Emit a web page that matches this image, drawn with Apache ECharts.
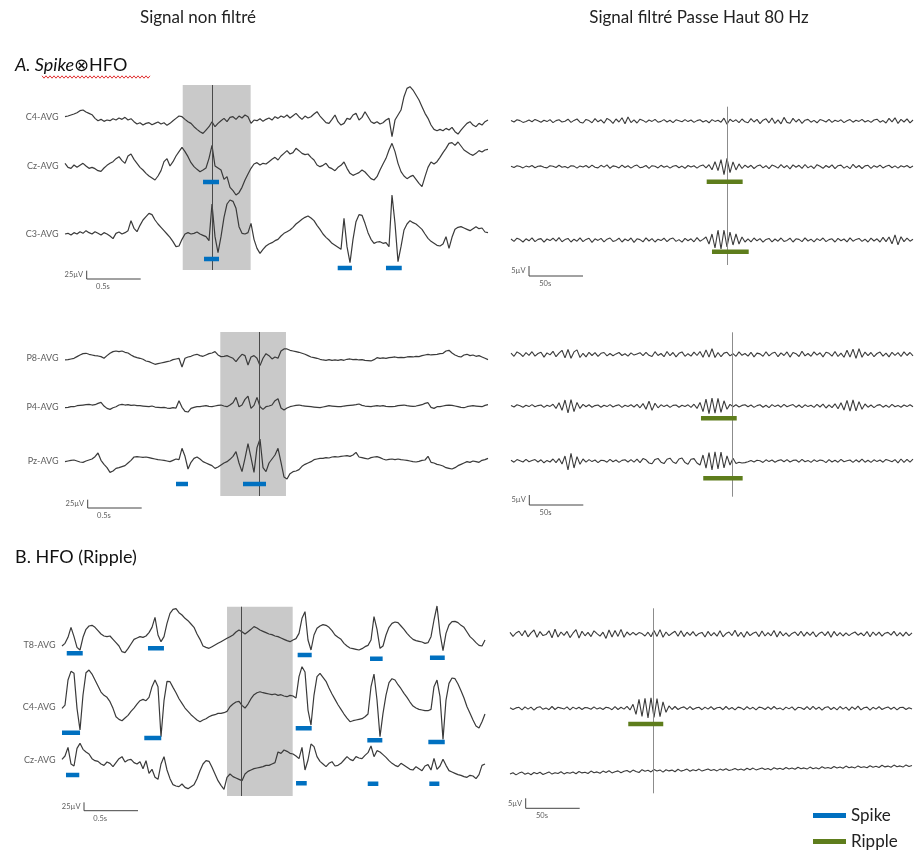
<!DOCTYPE html>
<html><head><meta charset="utf-8">
<script src="https://cdn.jsdelivr.net/npm/echarts@6/dist/echarts.min.js"></script>
<style>html,body{margin:0;padding:0;background:#fff}#c{width:914px;height:855px}</style>
</head><body><div id="c"></div>
<script>
// ================= DATA =================
// Unfiltered traces (µV), sampled every 1/36 s
const rawA1_C4 = [0,2,5,8,12,18,20,14,10,6,-5,-12,-8,-14,-10,-12,-6,-10,-4,-8,-2,-10,-6,-15,-22,-18,-25,-20,-18,-24,-20,-16,-22,-18,-26,-20,-12,-5,2,0,-8,-15,-20,-30,-38,-45,-50,-40,-30,-15,-30,-20,-12,-5,-15,-2,0,-8,2,-4,5,0,-20,-10,-12,-6,-14,-8,-4,-10,0,-5,2,-2,5,-4,3,10,0,-8,2,-4,0,8,15,2,-8,-18,-20,-8,5,-15,-25,-20,-5,-8,5,10,-10,-2,15,0,-15,-20,-15,-22,-18,-10,-5,-60,-10,5,20,60,85,90,80,65,50,30,10,-5,-25,-38,-42,-38,-42,-35,-40,-32,-45,-52,-40,-30,-20,-15,-25,-30,-20,-25,-15,-10];
const rawA1_Cz = [8,-4,-7,3,-4,2,8,0,-7,-4,-8,-14,-16,-6,2,8,13,22,28,16,8,30,36,20,8,-4,-12,-22,-30,-36,-42,-30,-14,13,22,0,13,30,43,56,43,28,10,-2,-10,-17,-12,-6,23,62,0,-6,-12,-40,-32,-64,-74,-87,-80,-64,-42,-24,-7,6,10,3,8,6,13,20,26,18,30,38,46,36,40,53,46,38,34,36,26,18,3,-2,2,8,-4,-8,-14,-4,2,12,-7,-22,-28,-24,-20,-12,-18,-28,-38,-42,-32,-12,6,23,48,68,43,8,-17,-30,-38,-32,-28,-40,-52,-62,-32,-4,12,6,13,26,40,53,68,70,62,72,60,48,42,36,32,38,46,42,48,50];
const rawA1_C3 = [0,2,-3,4,0,7,2,10,4,0,7,2,-3,4,0,-6,-14,2,6,0,4,10,40,17,7,26,42,52,62,58,42,30,20,10,0,-10,-23,-38,-36,-16,0,4,0,2,6,0,-4,-8,-20,90,-8,-56,-8,50,90,102,98,77,22,2,0,4,32,-16,-43,-58,-46,-36,-30,-26,-20,-16,-6,2,7,12,20,30,37,44,50,54,48,40,26,14,0,-10,-18,-28,-34,-40,-46,47,-38,-86,-16,37,58,56,32,4,-16,-28,-24,-23,-28,-26,-38,117,32,-83,-38,12,30,40,34,30,22,14,0,-13,-22,-28,-34,-36,-30,-8,-43,-10,14,20,22,18,14,10,16,22,16,18,6,4];
const rawA2_P8 = [-5,-4,-2,0,5,10,14,15,12,10,8,7,5,0,8,15,20,22,20,22,18,16,10,5,2,0,-3,-8,-10,-14,-18,-16,-14,-12,-10,-8,-4,-2,0,-26,0,4,6,10,12,8,6,10,14,16,20,10,5,6,8,4,0,-10,2,12,8,-20,4,8,0,-22,0,14,8,-2,4,0,22,28,28,24,22,20,18,15,12,8,4,2,0,-3,-5,-6,-4,-6,-5,-6,-4,-6,-3,-2,-4,-3,-5,-4,-6,-7,-8,-4,2,0,1,0,2,3,4,2,3,2,4,5,4,6,5,8,10,12,10,11,12,14,15,22,24,16,10,6,4,10,12,8,10,6,8,4,0,-4];
const rawA2_P4 = [-3,-2,0,0,3,4,5,6,7,5,6,10,13,2,-5,-8,-3,0,5,7,5,6,4,5,3,3,2,1,0,2,-1,-2,-3,-2,-4,-5,-3,-4,18,-2,-14,-16,-5,-2,0,0,2,3,1,0,2,4,5,2,0,5,12,28,0,5,22,32,-5,4,28,0,-8,0,2,5,18,24,-4,-10,-4,0,2,4,5,3,2,1,0,-1,-2,-3,-1,1,3,2,1,0,0,2,3,4,5,6,8,4,2,1,0,2,3,2,3,1,0,0,1,3,4,5,3,2,1,2,4,6,10,12,-2,-5,0,0,2,4,5,4,2,0,-2,-3,0,2,3,2,1,0,4,6];
const rawA2_Pz = [-2,0,2,3,0,-3,-4,0,3,6,13,24,2,-10,-20,-34,-30,-22,-20,-17,-14,-6,2,12,13,12,11,12,10,8,6,4,3,2,0,-2,2,6,4,38,14,-24,-4,8,12,6,-2,-6,-10,-14,-22,-18,-12,-6,-2,5,14,28,-6,-32,8,52,10,-34,40,66,-20,-32,-6,6,18,38,-4,-48,-54,-38,-32,-30,-26,-16,-10,-6,-2,4,6,8,8,10,9,12,13,12,14,15,16,14,18,26,12,10,8,6,10,12,13,10,6,3,5,6,4,6,4,3,2,0,-2,-3,-1,2,3,14,-4,-6,-10,-12,-15,-20,-22,-24,-20,-14,-10,-6,-2,-4,0,-2,-4,2,4,8];
const rawB_T8 = [-3,5,23,53,25,-7,-15,23,47,57,59,53,43,33,27,25,27,17,7,-3,-20,-23,-11,3,17,21,25,23,27,37,53,83,30,10,25,65,95,107,109,97,90,80,73,63,53,33,17,-3,-7,-10,-5,0,5,10,15,20,25,30,39,45,40,33,40,47,55,51,45,41,37,33,31,27,25,21,17,13,10,15,19,35,80,100,15,-15,30,50,57,61,59,53,43,30,23,17,5,-3,-9,-11,-13,-15,-11,-5,-1,15,85,47,-10,-3,30,53,65,69,67,57,47,35,25,17,13,11,9,5,7,25,75,117,35,-17,35,60,70,71,67,59,53,39,25,17,7,-1,-3,15];
const rawB_C4 = [-5,5,80,106,100,-5,-70,35,102,110,98,80,62,44,34,28,15,-5,-30,-38,-42,-34,-26,-14,-4,8,18,22,18,28,60,80,60,-90,18,76,75,58,42,24,10,-4,-14,-24,-32,-40,-45,-40,-36,-30,-26,-24,-20,-20,-18,-14,0,8,14,16,4,-4,8,24,36,42,45,42,40,38,36,38,34,36,32,30,34,32,26,90,120,104,-10,-55,35,90,100,88,76,56,38,22,6,-8,-22,-34,-45,-42,-40,-38,-36,-30,-22,60,98,20,-90,-20,35,72,84,80,66,54,40,28,14,2,-4,-8,-10,-12,-12,-8,60,80,30,-98,20,70,86,84,68,48,26,0,-20,-40,-58,-64,-45,-22];
const rawB_Cz = [2,12,38,-12,-18,35,50,32,24,18,4,-2,-4,-12,-16,-6,-10,-20,-8,4,10,-6,0,2,-8,-12,-5,-26,-2,-40,-28,-52,-58,-12,10,-30,-56,-74,-78,-80,-72,-82,-86,-80,-74,-56,-32,-12,-2,-4,-22,-42,-62,-76,-88,-52,-42,-50,-54,-58,-62,-42,-34,-30,-26,-24,-22,-20,-16,-16,-12,-8,24,20,30,26,20,18,12,4,38,-30,0,48,40,10,-4,-12,-20,-10,-5,-18,-16,-10,0,10,2,-2,10,6,4,14,22,42,10,28,24,16,8,-2,-10,-16,-20,-10,-16,-22,-28,-30,-20,-26,-32,-18,-14,-30,5,-28,-18,2,-16,-32,-36,-40,-44,-46,-50,-52,-46,-48,-56,-44,-16,-12];

// High-pass filtered traces (µV), sampled every 50/18 ms
const filtA1_C4 = [0.3,-0.5,0.6,0.2,-0.7,-0.2,0.5,-0.4,0.8,0.1, -0.6,0.4,-0.3,0.7,-0.8,0.2,0.6,-0.5,-0.1,0.9, -0.7,0.3,1.0,-0.6,-1.0,0.8,0.2,-0.9,1.2,-0.4, 0.6,-1.1,1.3,0.4,-1.2,1.0,-0.5,1.6,-1.4,2.0, -0.8,0.6,-1.0,0.9,0.3,-0.7,0.5,-0.2,0.8,-0.6, -0.2,0.7,-0.5,0.4,-0.8,0.6,0.1,-0.4,0.7,-0.3, 0.5,-0.7,0.2,0.6,-0.5,0.3,-0.9,0.7,-0.2,0.4, -0.6,1.4,-1.6,0.9,-0.3,0.6,-0.8,1.0,-0.4,-0.9, 1.2,-0.5,0.8,-1.3,0.4,1.1,-0.9,1.5,-1.2,0.6, -1.4,1.8,-0.7,-1.1,1.3,-0.5,0.9,-1.2,0.4,0.8, -0.6,0.3,-0.9,0.7,0.2,-0.5,0.8,-0.7,0.4,-0.3, 0.6,-0.8,0.1,0.7,-0.6,0.4,-0.2,0.8,-0.5,0.3, -0.7,0.5,0.9,-0.6,0.2,-1.0,1.3,-0.4,1.6,-1.2, 0.8,-0.5,1.1,-0.9,0.5];
const filtA1_Cz = [0.2,-0.4,0.5,0.1,-0.6,0.3,-0.2,0.6,-0.5,0.2, 0.4,-0.3,-0.6,0.5,0.2,-0.4,0.7,-0.3,0.1,-0.6, 0.5,0.3,-0.7,0.4,-0.2,0.6,-0.5,0.8,-0.3,-0.6, 0.7,-0.2,0.9,-0.8,0.4,0.1,-0.6,0.8,-0.4,0.5, -0.7,0.3,0.8,-0.5,-0.2,0.6,-0.8,0.5,0.2,-0.6, 0.7,-0.3,0.4,-0.7,0.2,0.6,-0.5,0.3,-0.8,0.6, -0.2,0.5,-0.7,0.4,0.9,-0.6,1.0,-1.5,2.5,-2.0, 3.5,-4.0,4.2,-3.0,2.4,-1.6,1.4,-0.9,0.8,-0.4, 0.7,-0.9,0.3,0.9,-0.6,0.5,-1.0,0.8,0.2,-0.7, 1.0,-0.5,0.6,-1.1,0.9,-0.3,0.7,-0.8,1.1,-0.6, 0.4,-0.9,1.0,0.2,-0.8,0.6,-0.4,0.9,-1.0,0.5, 0.8,-0.7,0.3,-1.0,1.2,-0.5,0.6,-0.9,0.4,0.7, -0.8,0.5,-0.3,0.8,-0.6,0.2,0.7,-0.5,0.4,-0.7, 0.5,-0.2,0.6,-0.5,0.3];
const filtA1_C3 = [0.5,-0.7,0.9,0.2,-1.0,0.6,-0.4,1.1,-0.8,0.3, 0.7,-1.1,0.5,-0.3,0.9,-0.6,1.2,-0.9,0.2,0.8, -1.0,0.4,-0.6,1.1,-0.8,0.3,0.9,-1.2,0.6,-0.2, 0.8,-0.9,0.4,1.0,-0.7,-0.2,0.9,-1.0,0.5,-0.4, 1.0,-1.2,0.6,0.2,-0.9,1.1,-0.5,0.7,-1.0,0.4, -0.3,0.9,-0.8,0.5,1.0,-0.7,0.2,-1.1,0.8,-0.4, 0.6,-0.9,1.2,-0.6,0.3,1.5,-2.0,3.0,-4.0,5.0, -4.5,5.0,-3.5,4.0,-2.5,3.0,-2.0,1.5,-1.0,0.6, -0.9,1.0,-0.4,0.7,-1.1,0.3,0.8,-0.9,0.5,-0.6, 1.0,-0.7,-0.2,0.9,-1.0,0.6,0.3,-0.8,1.1,-0.5, 0.4,-0.9,0.7,-0.3,1.0,-0.8,0.2,0.6,-1.0,0.8, -0.4,0.5,-0.9,1.1,-0.6,0.3,0.8,-0.7,0.4,-1.0, 0.9,-0.5,0.6,-1.0,1.3,-0.8,1.5,-1.9,2.6,-2.4, 1.6,-0.8,0.9,-0.6,0.4];
const filtA2_P8 = [0.6,-1.0,1.2,0.3,-1.1,0.8,-0.5,1.3,-0.9,0.4, 1.0,-1.4,0.7,-0.3,1.5,-1.2,0.6,2.0,-1.8,2.4, -2.0,1.2,2.2,-1.6,0.5,-1.3,1.0,-0.6,0.8,-1.0, 0.5,0.9,-0.8,0.4,-0.7,0.2,0.9,-0.6,0.3,-0.9, 0.7,-0.4,0.2,0.8,-0.7,1.0,-0.5,-1.1,1.3,-0.6, 0.4,-1.2,1.4,-0.7,0.9,-1.3,0.5,1.2,-1.0,0.3, -0.9,1.1,-0.6,1.4,-1.5,2.2,-1.4,2.8,-1.6,0.9, -1.2,0.6,1.0,-0.8,0.3,-1.0,1.2,-0.5,0.4,-0.9, 1.0,-1.3,0.6,0.2,-1.0,1.3,-0.8,0.5,1.0,-1.2, 0.7,-0.6,1.2,-1.4,0.9,0.3,-1.1,1.5,-0.8,0.4, -1.0,1.2,-0.4,0.8,-1.3,1.0,0.5,-0.9,1.4,-1.1, 0.6,-1.5,2.0,-1.4,2.6,-2.0,2.8,-1.5,1.1,-0.7, 0.9,-1.2,0.4,1.1,-0.9,0.6,-1.3,1.0,-0.5,0.8, -1.1,1.2,-0.6,0.9,-0.8];
const filtA2_P4 = [0.3,-0.5,0.6,0.1,-0.6,0.4,-0.3,0.7,-0.4,0.2, 0.5,-0.7,0.4,-0.2,0.9,-1.2,1.6,-2.2,3.0,-3.5, 3.2,-2.8,1.8,-1.2,0.8,-0.4,0.6,-0.6,0.2,0.5, -0.6,0.4,-0.3,0.7,-0.5,0.2,0.6,-0.7,0.4,-0.2, 0.6,-0.5,0.8,-0.9,1.2,-1.6,2.4,-2.2,1.4,-0.9, 0.6,-0.3,0.5,-0.7,0.3,0.5,-0.6,0.4,-0.2,0.6, -0.7,0.9,-1.2,1.8,-2.8,3.4,-3.8,4.0,-3.6,3.8, -3.2,2.6,-1.6,0.8,-0.4,0.6,-0.5,0.3,0.6,-0.4, 0.5,-0.7,0.2,0.6,-0.6,0.4,-0.8,0.7,-0.3,0.5, -0.6,0.8,-0.4,0.2,0.7,-0.6,0.5,-0.8,0.6,-0.3, 0.4,-0.7,0.8,-0.5,0.9,-1.0,0.6,-0.8,1.1,-1.4, 1.6,-2.0,2.8,-2.6,3.0,-2.4,2.2,-1.6,1.0,-0.6, 0.5,-0.8,0.3,0.7,-0.6,0.4,-0.7,0.8,-0.4,0.3, -0.6,0.5,-0.3,0.6,-0.4];
const filtA2_Pz = [0.4,-0.6,0.7,0.1,-0.5,0.8,-0.4,0.2,0.7,-0.5, 0.6,-0.9,0.3,-0.5,1.0,-0.8,1.2,-1.5,2.5,-4.5, 3.8,-3.5,2.2,-1.6,1.0,-0.6,0.7,-0.3,0.5,-0.8, 0.4,0.2,-0.6,0.8,-0.4,0.5,-0.7,0.3,0.6,-0.5, 0.7,-0.6,0.9,-0.8,1.2,0.6,-1.0,-1.4,0.8,1.3, -0.6,-1.3,0.9,1.4,-0.5,-1.2,1.0,1.5,-0.8,-1.6, 0.9,1.2,-1.0,-2.0,3.0,-3.6,4.2,-4.5,4.6,-4.0, 4.4,-3.4,2.6,-2.0,1.4,-1.2,-0.6,-1.0,-0.8,-0.4, 0.2,-0.5,0.4,0.1,-0.7,0.6,-0.3,0.5,-0.6,0.2, 0.6,-0.4,0.7,-0.5,0.3,0.5,-0.6,0.8,-0.4,0.3, -0.7,0.6,-0.3,0.5,0.2,-0.8,0.7,-0.5,0.4,-0.6, 0.8,-0.4,0.1,0.5,-0.7,0.6,-0.5,0.9,-0.6,0.4, -0.7,0.6,-0.3,0.5,-0.6,0.8,0.2,-0.4,0.7,-0.9, 1.0,-0.7,0.8,-0.6,0.9];
const filtB_T8 = [0.8,-1.2,0.5,1.4,-0.9,1.8,-1.4,0.6,2.0,-1.6, 1.2,-0.8,-0.3,1.6,-1.9,2.4,-1.5,1.0,-0.7,1.3, -1.8,0.4,2.2,-2.0,1.4,-0.9,0.8,-1.3,1.6,0.2, -1.1,0.9,-2.2,2.0,-1.5,1.8,-1.2,2.3,-1.6,1.0, -0.6,0.8,-0.5,0.7,0.2,-1.0,0.9,-1.4,1.8,-1.2, 2.2,-1.6,1.0,-0.8,0.4,1.4,-1.1,1.6,-1.3,0.9, -0.7,1.2,-1.0,0.3,0.8,-1.5,1.3,-0.9,0.7,-1.1, 1.6,-1.4,0.2,1.0,-0.8,1.9,-1.2,0.9,-1.6,1.2, -0.8,0.4,1.0,-1.3,1.5,-1.0,0.7,-0.9,1.8,-1.5, 1.3,-0.9,0.6,-1.2,0.3,1.0,-0.8,1.4,-1.1,0.9, -0.7,1.1,-1.4,0.2,1.0,-0.8,1.2,-1.6,1.3,-0.9, 0.7,-1.0,0.6,-0.8,0.3,1.0,-0.6,0.5,-0.9,1.2, -1.4,1.0,-0.7,0.9,-1.1,0.4,0.8,-0.6,1.3,-1.0, 0.7,-1.1,0.9,-0.8,0.6];
const filtB_C4 = [0.3,-0.6,0.2,0.5,-0.8,0.7,-0.4,0.6,-0.9,0.4, 0.8,-0.5,0.2,-0.7,0.9,-0.6,0.5,0.1,-0.4,0.7, -0.8,0.6,-0.3,0.5,-0.6,0.4,0.2,-0.5,0.7,-0.4, 0.3,-0.6,0.5,0.2,-0.7,0.8,-0.6,0.5,-0.4,1.0, -0.8,2.0,-3.0,4.5,-4.0,5.0,-4.8,5.2,-4.6,4.8, -4.2,3.2,-2.0,1.2,-0.6,0.9,-0.6,0.3,0.7,-0.5, 0.8,-0.6,0.2,0.5,-0.7,0.6,-0.4,0.8,-0.6,0.3, 0.5,-0.7,0.9,-0.5,0.4,-0.8,0.6,0.2,-0.7,0.8, -0.4,0.5,-0.8,0.6,0.3,-0.6,0.7,-0.5,0.9,-0.4, 0.2,-0.8,0.6,-0.3,0.7,-0.9,0.5,0.3,-0.6,0.8, -0.7,1.0,-0.5,0.6,-0.9,0.4,0.8,-0.6,0.5,-0.8, 0.9,-0.4,0.6,-1.0,0.7,-0.5,1.1,-0.8,0.3,0.6, -0.9,0.5,-0.4,0.8,-0.6,0.2,0.7,-0.5,0.6,-0.8, 0.4,0.5,-0.6,0.3,-0.4];
const filtB_Cz = [-1.2,-0.5,-1.6,-0.7,-0.2,-1.3,-0.6,-1.5,-0.4,-1.0, -0.3,-1.4,-0.8,-0.1,-1.2,-0.5,-0.9,0.0,-1.1,-0.4, -0.8,-0.2,-1.0,0.1,-0.6,-0.3,-0.9,0.3,-0.5,-0.1, -0.8,0.3,-0.4,0.5,-0.6,0.0,0.4,-0.5,0.2,0.6, -0.3,0.8,0.1,-0.4,1.0,0.2,0.7,-0.1,1.1,0.3, 0.9,-0.2,1.0,0.4,0.8,0.0,1.2,0.3,0.7,1.3, 0.2,1.0,0.5,1.3,0.3,0.9,1.4,0.6,1.1,0.4, 1.3,0.7,1.5,0.6,1.0,1.6,0.8,1.3,0.7,1.7, 1.0,1.8,0.9,1.4,1.9,1.1,1.6,0.9,2.0,1.3, 1.7,1.1,2.1,1.3,1.8,1.2,2.2,1.5,1.9,1.3, 2.3,1.5,2.0,1.4,2.5,1.7,2.1,1.6,2.6,1.8, 2.3,1.7,2.8,2.0,2.4,1.9,2.9,2.1,2.5,2.0, 3.0,2.2,2.7,2.1,3.2,2.4,2.8,2.2,3.3,2.5, 2.9,2.3,3.4,2.6,3.1];

// Channel names
const namesA1 = ['C4-AVG','Cz-AVG','C3-AVG'];
const namesA2 = ['P8-AVG','P4-AVG','Pz-AVG'];
const namesB  = ['T8-AVG','C4-AVG','Cz-AVG'];

// Marked events: spikes [start,end] in s, ripples [start,end] in ms
const spikesA1 = [[], [[1.278,1.426]], [[1.287,1.426],[2.525,2.657],[2.972,3.118]]];
const spikesA2 = [[], [], [[1.028,1.139],[1.648,1.861]]];
const spikesB  = [[[0.044,0.192],[0.796,0.944],[2.182,2.312],[2.852,2.969],[3.407,3.544]],
                  [[0.0,0.167],[0.762,0.919],[2.164,2.312],[2.827,2.966],[3.392,3.544]],
                  [[0.037,0.160],[2.167,2.266],[2.831,2.929],[3.401,3.494]]];
const ripplesA1 = [[], [[181.2,214.5]], [[186.1,220.1]]];
const ripplesA2 = [[], [[175.9,209.0]], [[178.0,214.5]]];
const ripplesB  = [[], [[109.5,141.9]], []];

// Highlighted windows (s) and event-time markers
const windowA1 = [1.090,1.719], markA1 = 1.358, markA1f = 200.3;
const windowA2 = [1.438,2.046], markA2 = 1.796, markA2f = 204.9;
const windowB  = [1.528,2.136], markB  = 1.657, markBf  = 132.7;

// Scale bars
const rawScale = {uv:25, t:0.5, uvText:'25µV', tText:'0.5s'};
const filtScale = {uv:5, t:50, uvText:'5µV', tText:'50s'};

// ================= LAYOUT (px) =================
const RAW = {dt:1/36, pxPerT:108, uvPerPx:3, yR:180, lineColor:'#4a4a4a', trace:'#3a3a3a', tw:1.2};
const FILT = {dt:50/18, pxPerT:1.08, uvPerPx:0.5, yR:30, lineColor:'#8c8c8c', trace:'#3a3a3a', tw:1.1};
const SPIKE_COLOR = '#0070c0', RIPPLE_COLOR = '#5e7d1c';

const panels = [
  {cfg:RAW, x0:65, traces:[rawA1_C4,rawA1_Cz,rawA1_C3], names:namesA1, base:[116.7,166,234], ev:spikesA1, evLvPx:[[],[16],[25,34,34]], win:windowA1, mark:markA1, spanY:[85,270], sb:[86.7,279], sc:rawScale},
  {cfg:FILT, x0:511, traces:[filtA1_C4,filtA1_Cz,filtA1_C3], base:[121,166.7,240], ev:ripplesA1, evLvPx:[[],[15],[11.7]], mark:markA1f, spanY:[106.7,265], sb:[529,276], sc:filtScale},
  {cfg:RAW, x0:65, traces:[rawA2_P8,rawA2_P4,rawA2_Pz], names:namesA2, base:[358.3,406.7,461], ev:spikesA2, evLvPx:[[],[],[23,23]], win:windowA2, mark:markA2, spanY:[332,496], sb:[87.7,508], sc:rawScale},
  {cfg:FILT, x0:511, traces:[filtA2_P8,filtA2_P4,filtA2_Pz], base:[354.3,406,461], ev:ripplesA2, evLvPx:[[],[12.3],[17.3]], mark:markA2f, spanY:[332.3,496.7], sb:[529.3,505], sc:filtScale},
  {cfg:RAW, x0:62, traces:[rawB_T8,rawB_C4,rawB_Cz], names:namesB, base:[645,706.7,760], ev:spikesB, evLvPx:[[8.3,3.3,10,13.7,12.7],[26,31.3,21.6,33.6,35.3],[15,23.3,23.7,23.7]], win:windowB, mark:markB, spanY:[606.7,796], sb:[84,810.7], sc:rawScale},
  {cfg:FILT, x0:510, traces:[filtB_T8,filtB_C4,filtB_Cz], base:[634,708.3,771.7], ev:ripplesB, evLvPx:[[],[15.7],[]], mark:markBf, spanY:[608.3,793.3], sb:[525.7,808.3], sc:filtScale}
];

const FONT = 'Lato, "DejaVu Sans", sans-serif';
const grids=[], xAxes=[], yAxes=[], series=[];
function addGrid(left, top, width, height, xmin, xmax, ymin, ymax){
  const i = grids.length;
  grids.push({left, top, width, height, containLabel:false, show:false});
  xAxes.push({type:'value', gridIndex:i, min:xmin, max:xmax, show:false});
  yAxes.push({type:'value', gridIndex:i, min:ymin, max:ymax, show:false});
  return i;
}

panels.forEach(p => {
  const c = p.cfg, n = p.traces[0].length, xmax = (n-1)*c.dt, width = xmax*c.pxPerT;
  const isRaw = c === RAW;
  const g0 = addGrid(p.x0, p.spanY[0], width, p.spanY[1]-p.spanY[0], 0, xmax, 0, 1);
  const ov = {type:'line', xAxisIndex:g0, yAxisIndex:g0, data:[[0,0.5]], symbol:'none', lineStyle:{opacity:0}, silent:true, z:1,
    markLine:{silent:true, symbol:['none','none'], label:{show:false}, lineStyle:{color:c.lineColor, width:1, type:'solid'}, data:[{xAxis:p.mark}]}};
  if (p.win) ov.markArea = {silent:true, itemStyle:{color:'#c9c9c9', opacity:1}, data:[[{xAxis:p.win[0]},{xAxis:p.win[1]}]]};
  series.push(ov);
  const H = 2*c.yR/c.uvPerPx;
  p.traces.forEach((tr,k) => {
    const g = addGrid(p.x0, p.base[k]-H/2, width, H, 0, xmax, -c.yR, c.yR);
    series.push({type:'line', xAxisIndex:g, yAxisIndex:g, data:tr.map((v,i)=>[i*c.dt, v]), symbol:'none', showSymbol:false,
      lineStyle:{color:c.trace, width:c.tw}, silent:true, z:3});
    if (p.names) series.push({type:'scatter', xAxisIndex:g, yAxisIndex:g, data:[[0,0]], symbolSize:1, itemStyle:{color:'rgba(0,0,0,0)'}, silent:true, z:3,
      label:{show:true, position:'left', distance:6, formatter:p.names[k], fontSize:9, color:'#333', fontFamily:FONT}});
    (p.ev[k]||[]).forEach((e,j) => {
      const lv = -p.evLvPx[k][j]*c.uvPerPx;
      const col = isRaw ? SPIKE_COLOR : RIPPLE_COLOR;
      series.push({name: isRaw ? 'Spike' : 'Ripple', type:'line', xAxisIndex:g, yAxisIndex:g, data:[[e[0],lv],[e[1],lv]], symbol:'none',
        lineStyle:{color:col, width:4.5, cap:'butt'}, itemStyle:{color:col}, silent:true, clip:false, z:5});
    });
  });
  const sW = p.sc.t*c.pxPerT, sH = p.sc.uv/c.uvPerPx;
  const gs = addGrid(p.sb[0], p.sb[1]-sH, sW, sH, 0, p.sc.t, 0, p.sc.uv);
  series.push({type:'line', xAxisIndex:gs, yAxisIndex:gs, data:[[0,p.sc.uv],[0,0],[p.sc.t,0]], symbol:'none', clip:false,
    lineStyle:{color:'#444', width:1}, silent:true, z:3});
  series.push({type:'scatter', xAxisIndex:gs, yAxisIndex:gs, data:[[0,p.sc.uv/2]], symbolSize:1, itemStyle:{color:'rgba(0,0,0,0)'}, silent:true,
    label:{show:true, position:'left', distance:3, formatter:p.sc.uvText, fontSize:7.5, color:'#333', fontFamily:FONT}});
  series.push({type:'scatter', xAxisIndex:gs, yAxisIndex:gs, data:[[p.sc.t*0.3,0]], symbolSize:1, itemStyle:{color:'rgba(0,0,0,0)'}, silent:true,
    label:{show:true, position:'bottom', distance:3, formatter:p.sc.tText, fontSize:7.5, color:'#333', fontFamily:FONT}});
});

// red spell-check squiggle (decoration)
const squig = [];
for (let x = 42, k = 0; x <= 150; x += 2, k++) squig.push([x, 77 + (k % 2 ? 1.2 : -1.2)]);

const legendBase = {orient:'vertical', left:808, itemWidth:33, itemHeight:5, icon:'rect', selectedMode:false,
  textStyle:{fontSize:17, fontFamily:FONT, color:'#222'}};

const chart = echarts.init(document.getElementById('c'), null, {renderer:'canvas'});
chart.setOption({
  animation:false,
  backgroundColor:'#fff',
  grid:grids, xAxis:xAxes, yAxis:yAxes, series:series,
  legend:[Object.assign({}, legendBase, {top:802, data:['Spike']}), Object.assign({}, legendBase, {top:828, data:['Ripple']})],
  graphic:[
    {type:'text', x:198, y:18, style:{text:'Signal non filtré', font:'17px '+FONT, fill:'#222', textAlign:'center', align:'center', textVerticalAlign:'middle', verticalAlign:'middle'}},
    {type:'text', x:699, y:18, style:{text:'Signal filtré Passe Haut 80 Hz', font:'17px '+FONT, fill:'#222', textAlign:'center', align:'center', textVerticalAlign:'middle', verticalAlign:'middle'}},
    {type:'text', x:15, y:65, style:{text:'{i|A. Spike}{n|⊗HFO}', textVerticalAlign:'middle', verticalAlign:'middle',
      rich:{i:{fontStyle:'italic', fontSize:18, fontFamily:FONT, fill:'#111', color:'#111'}, n:{fontSize:18, fontFamily:FONT, fill:'#111', color:'#111'}}}},
    {type:'polyline', shape:{points:squig}, style:{stroke:'#e03030', lineWidth:1, fill:null}},
    {type:'text', x:15, y:557, style:{text:'B. HFO (Ripple)', font:'18px '+FONT, fill:'#111', textVerticalAlign:'middle', verticalAlign:'middle'}}
  ]
});
</script>
</body></html>
